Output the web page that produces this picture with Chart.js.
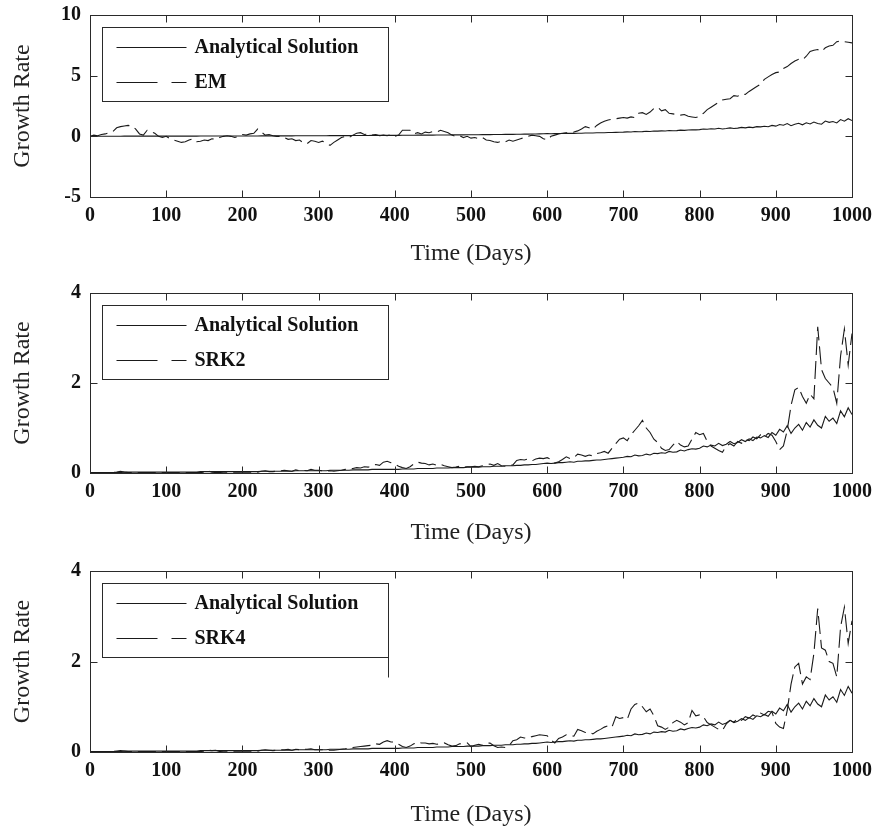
<!DOCTYPE html>
<html>
<head>
<meta charset="utf-8">
<script src="https://cdn.jsdelivr.net/npm/chart.js@4.4.1/dist/chart.umd.min.js"></script>
<style>
  body { margin: 0; background: #fff; }
  #wrap { position: relative; width: 874px; height: 832px; }
  #wrap canvas { position: absolute; left: 0; }
</style>
</head>
<body>
<div id="wrap">
  <canvas id="emChart" width="874" height="268" style="top:0px"></canvas>
  <canvas id="srk2Chart" width="874" height="269" style="top:278px"></canvas>
  <canvas id="srk4Chart" width="874" height="273" style="top:556px"></canvas>
</div>
<script>
// time axis: one sample every 5 days, 0..1000
const dayStep = 5;
const days = Array.from({ length: 201 }, (_, i) => i * dayStep);

const xTicks = [0, 100, 200, 300, 400, 500, 600, 700, 800, 900, 1000];
const emTicks = [-5, 0, 5, 10];
const srkTicks = [0, 2, 4];

// one row per 100 days
const analytical = [
  0.01,0.01,0.01,0.01,0.01,0.01,0.01,0.01,0.01,0.02,0.02,0.02,0.02,0.02,0.02,0.02,0.02,0.02,0.02,0.02,
  0.02,0.02,0.02,0.02,0.02,0.02,0.02,0.02,0.02,0.03,0.03,0.03,0.03,0.03,0.03,0.03,0.03,0.03,0.03,0.03,
  0.03,0.03,0.03,0.03,0.03,0.04,0.04,0.04,0.04,0.04,0.04,0.04,0.04,0.04,0.05,0.05,0.05,0.05,0.05,0.05,
  0.05,0.05,0.05,0.06,0.06,0.06,0.06,0.06,0.06,0.07,0.07,0.07,0.07,0.07,0.08,0.08,0.08,0.08,0.08,0.08,
  0.08,0.08,0.09,0.09,0.09,0.09,0.10,0.10,0.10,0.10,0.10,0.11,0.11,0.11,0.11,0.12,0.12,0.12,0.12,0.13,
  0.13,0.13,0.13,0.14,0.14,0.14,0.15,0.15,0.15,0.16,0.16,0.16,0.17,0.17,0.18,0.18,0.19,0.19,0.20,0.21,
  0.22,0.21,0.22,0.23,0.23,0.24,0.25,0.24,0.26,0.26,0.27,0.27,0.28,0.29,0.29,0.30,0.31,0.32,0.33,0.34,
  0.35,0.37,0.36,0.40,0.38,0.39,0.42,0.40,0.44,0.43,0.45,0.44,0.48,0.46,0.47,0.51,0.49,0.52,0.54,0.53,
  0.55,0.60,0.58,0.62,0.60,0.66,0.61,0.64,0.70,0.65,0.68,0.74,0.70,0.76,0.72,0.80,0.78,0.83,0.79,0.90,
  0.84,0.97,0.91,1.05,0.88,1.00,1.08,0.95,1.12,1.02,1.18,1.06,1.00,1.26,1.15,1.22,1.10,1.38,1.25,1.45,
  1.30
];

const em = [
  0.00,0.10,0.05,0.15,0.20,0.30,0.40,0.70,0.80,0.85,0.90,0.85,0.60,0.20,0.10,0.50,0.40,0.25,0.00,-0.10,
  0.00,-0.20,-0.30,-0.40,-0.50,-0.45,-0.30,-0.20,-0.45,-0.40,-0.30,-0.35,-0.20,-0.25,-0.10,0.00,0.05,0.00,-0.10,0.00,
  0.15,0.10,0.20,0.25,0.60,0.35,0.10,0.15,0.05,0.00,0.00,-0.10,-0.25,-0.20,-0.35,-0.30,-0.55,-0.60,-0.35,-0.40,
  -0.50,-0.40,-0.55,-0.75,-0.50,-0.30,-0.10,0.00,-0.10,0.10,0.25,0.30,0.15,0.20,0.10,0.15,0.05,0.10,0.05,0.15,
  0.00,0.10,0.50,0.50,0.50,0.20,0.30,0.20,0.35,0.30,0.40,0.35,0.50,0.40,0.30,0.10,0.00,0.05,-0.10,0.00,
  -0.15,-0.10,-0.20,-0.10,-0.30,-0.35,-0.45,-0.50,-0.40,-0.45,-0.30,-0.40,-0.30,-0.20,-0.10,0.00,0.10,0.05,0.00,-0.20,
  -0.30,0.00,0.10,0.20,0.25,0.30,0.30,0.35,0.45,0.60,0.80,0.70,0.60,0.90,1.10,1.25,1.35,1.40,1.45,1.50,
  1.55,1.50,1.60,1.55,1.90,1.95,1.80,2.00,2.30,2.40,2.10,2.20,1.90,1.85,1.80,1.75,1.80,1.65,1.60,1.55,
  1.65,1.90,2.20,2.40,2.60,2.80,3.00,3.05,3.10,3.35,3.30,3.50,3.45,3.70,3.90,4.10,4.30,4.70,4.90,5.10,
  5.25,5.30,5.60,5.75,6.00,6.20,6.35,6.30,6.60,7.00,7.10,7.15,7.00,7.30,7.45,7.50,7.80,7.85,7.80,7.75,
  7.70
];

const srk2 = [
  0.01,0.01,0.01,0.01,0.01,0.01,0.01,0.02,0.04,0.02,0.01,0.01,0.01,0.01,0.01,0.01,0.01,0.01,0.01,0.01,
  0.01,0.01,0.01,0.01,0.01,0.01,0.01,0.01,0.01,0.01,0.02,0.05,0.02,0.01,0.01,0.02,0.02,0.02,0.02,0.02,
  0.02,0.02,0.02,0.02,0.02,0.04,0.05,0.03,0.03,0.04,0.05,0.06,0.05,0.04,0.07,0.05,0.06,0.05,0.08,0.06,
  0.06,0.05,0.04,0.05,0.04,0.05,0.06,0.08,0.09,0.10,0.12,0.11,0.14,0.13,0.16,0.19,0.17,0.24,0.26,0.23,
  0.20,0.15,0.12,0.10,0.14,0.20,0.24,0.22,0.21,0.18,0.20,0.17,0.19,0.16,0.14,0.12,0.13,0.15,0.13,0.14,
  0.14,0.15,0.14,0.16,0.18,0.20,0.17,0.21,0.16,0.15,0.16,0.18,0.28,0.30,0.29,0.31,0.27,0.31,0.33,0.32,
  0.34,0.30,0.22,0.25,0.30,0.36,0.32,0.34,0.42,0.40,0.37,0.40,0.38,0.43,0.45,0.48,0.44,0.55,0.65,0.75,
  0.78,0.72,0.85,0.95,1.05,1.17,1.00,0.90,0.75,0.68,0.55,0.50,0.52,0.62,0.70,0.62,0.58,0.60,0.75,0.90,
  0.85,0.88,0.70,0.60,0.55,0.50,0.46,0.60,0.65,0.60,0.70,0.66,0.75,0.72,0.80,0.76,0.85,0.80,0.88,0.84,
  0.70,0.52,0.60,0.95,1.50,1.85,1.90,1.70,1.55,1.75,1.65,3.25,2.30,2.10,2.00,1.90,1.55,2.60,3.20,2.40,
  3.10
];

const srk4 = [
  0.01,0.01,0.01,0.01,0.01,0.01,0.01,0.02,0.03,0.02,0.01,0.01,0.01,0.01,0.01,0.01,0.01,0.01,0.01,0.01,
  0.01,0.01,0.01,0.01,0.01,0.01,0.01,0.01,0.01,0.01,0.02,0.04,0.03,0.04,0.01,0.02,0.02,0.02,0.02,0.02,
  0.02,0.02,0.02,0.02,0.02,0.04,0.05,0.04,0.03,0.04,0.05,0.05,0.06,0.04,0.06,0.05,0.06,0.06,0.07,0.05,
  0.05,0.05,0.04,0.04,0.04,0.05,0.06,0.07,0.09,0.10,0.11,0.12,0.13,0.14,0.15,0.18,0.17,0.22,0.25,0.22,
  0.22,0.17,0.12,0.10,0.13,0.18,0.22,0.20,0.20,0.18,0.19,0.17,0.18,0.20,0.16,0.13,0.14,0.18,0.19,0.20,
  0.12,0.15,0.17,0.15,0.19,0.20,0.14,0.10,0.11,0.10,0.14,0.25,0.27,0.33,0.31,0.30,0.34,0.36,0.38,0.37,
  0.36,0.26,0.20,0.30,0.33,0.38,0.36,0.35,0.50,0.47,0.43,0.44,0.40,0.46,0.50,0.55,0.58,0.55,0.78,0.74,
  0.76,0.72,0.95,1.05,1.08,1.00,0.89,0.95,0.80,0.58,0.55,0.50,0.55,0.65,0.70,0.66,0.60,0.65,0.92,0.80,
  0.82,0.78,0.65,0.60,0.55,0.50,0.48,0.62,0.70,0.66,0.74,0.70,0.78,0.75,0.82,0.78,0.86,0.82,0.90,0.88,
  0.63,0.55,0.52,0.92,1.50,1.88,1.96,1.50,1.66,1.60,2.18,3.17,2.30,2.25,2.00,1.96,1.66,2.76,3.20,2.40,
  2.90
];

const SERIF = "'Liberation Serif', 'DejaVu Serif', serif";
const INK = '#1a1a1a';

// box, inward ticks on all four sides, and the MATLAB style legend
const framePlugin = {
  id: 'frame',
  afterDatasetsDraw(chart, args, opts) {
    const { ctx, chartArea: a, scales } = chart;
    const x = scales.x, y = scales.y;
    const L = Math.round(a.left) + 0.5, R = Math.round(a.right) + 0.5;
    const T = Math.round(a.top) + 0.5, B = Math.round(a.bottom) + 0.5;
    ctx.save();
    ctx.strokeStyle = '#2a2a2a';
    ctx.lineWidth = 1;
    ctx.strokeRect(L, T, R - L, B - T);

    ctx.beginPath();
    opts.xTicks.forEach(v => {
      const px = Math.round(x.getPixelForValue(v)) + 0.5;
      ctx.moveTo(px, B); ctx.lineTo(px, B - 7);
      ctx.moveTo(px, T); ctx.lineTo(px, T + 7);
    });
    opts.yTicks.forEach(v => {
      const py = Math.round(y.getPixelForValue(v)) + 0.5;
      ctx.moveTo(L, py); ctx.lineTo(L + 7, py);
      ctx.moveTo(R, py); ctx.lineTo(R - 7, py);
    });
    ctx.stroke();

    // legend
    const bx = L + 12, by = T + 12, bw = 286, bh = 74;
    ctx.fillStyle = '#fff';
    ctx.fillRect(bx, by, bw, bh);
    ctx.strokeRect(bx, by, bw, bh);
    if (opts.tail) {
      ctx.beginPath();
      ctx.moveTo(bx + bw, by + bh);
      ctx.lineTo(bx + bw, by + bh + opts.tail);
      ctx.stroke();
    }
    const rows = [by + 20, by + 55];
    ctx.strokeStyle = INK;
    ctx.beginPath();
    ctx.moveTo(bx + 14, rows[0]); ctx.lineTo(bx + 84, rows[0]);
    ctx.stroke();
    ctx.setLineDash([41, 14, 15, 200]);
    ctx.beginPath();
    ctx.moveTo(bx + 14, rows[1]); ctx.lineTo(bx + 84, rows[1]);
    ctx.stroke();
    ctx.setLineDash([]);
    ctx.fillStyle = '#111';
    ctx.font = 'bold 20px ' + SERIF;
    ctx.textBaseline = 'middle';
    ctx.fillText(opts.names[0], bx + 92, rows[0]);
    ctx.fillText(opts.names[1], bx + 92, rows[1]);
    ctx.restore();
  }
};

function makePanel(id, name, values, yMin, yMax, yTicks, axisHeight, tail) {
  new Chart(document.getElementById(id), {
    type: 'line',
    data: {
      labels: days,
      datasets: [
        {
          label: 'Analytical Solution',
          data: days.map((d, i) => ({ x: d, y: analytical[i] })),
          borderColor: INK,
          borderWidth: 1.1,
          pointRadius: 0,
          tension: 0
        },
        {
          label: name,
          data: days.map((d, i) => ({ x: d, y: values[i] })),
          borderColor: INK,
          borderWidth: 1.1,
          borderDash: [18, 6],
          pointRadius: 0,
          tension: 0
        }
      ]
    },
    options: {
      responsive: false,
      animation: false,
      events: [],
      devicePixelRatio: 1,
      layout: { padding: { top: 15, right: 22, left: 0, bottom: 0 } },
      plugins: {
        legend: { display: false },
        tooltip: { enabled: false },
        frame: { names: ['Analytical Solution', name], xTicks: xTicks, yTicks: yTicks, tail: tail }
      },
      scales: {
        x: {
          type: 'linear',
          min: 0,
          max: 1000,
          grid: { display: false, drawTicks: false },
          border: { display: false },
          ticks: {
            stepSize: 100,
            padding: 7,
            color: '#111',
            maxRotation: 0,
            callback: v => String(v),
            font: { family: SERIF, size: 20, weight: 'bold' }
          },
          title: {
            display: true,
            text: 'Time (Days)',
            color: '#222',
            padding: { top: 0, bottom: 0 },
            font: { family: SERIF, size: 24 }
          },
          afterFit: s => { s.height = axisHeight; s.paddingLeft = 0; s.paddingRight = 0; }
        },
        y: {
          min: yMin,
          max: yMax,
          grid: { display: false, drawTicks: false },
          border: { display: false },
          ticks: {
            stepSize: yTicks[1] - yTicks[0],
            padding: 9,
            color: '#111',
            callback: v => String(v),
            font: { family: SERIF, size: 20, weight: 'bold' }
          },
          title: {
            display: true,
            text: 'Growth Rate',
            color: '#222',
            padding: { top: 8, bottom: 0 },
            font: { family: SERIF, size: 24 }
          },
          afterFit: s => { s.width = 90; s.paddingTop = 0; s.paddingBottom = 0; }
        }
      }
    },
    plugins: [framePlugin]
  });
}

makePanel('emChart', 'EM', em, -5, 10, emTicks, 71, 0);
makePanel('srk2Chart', 'SRK2', srk2, 0, 4, srkTicks, 74, 0);
makePanel('srk4Chart', 'SRK4', srk4, 0, 4, srkTicks, 77, 20);
</script>
</body>
</html>
